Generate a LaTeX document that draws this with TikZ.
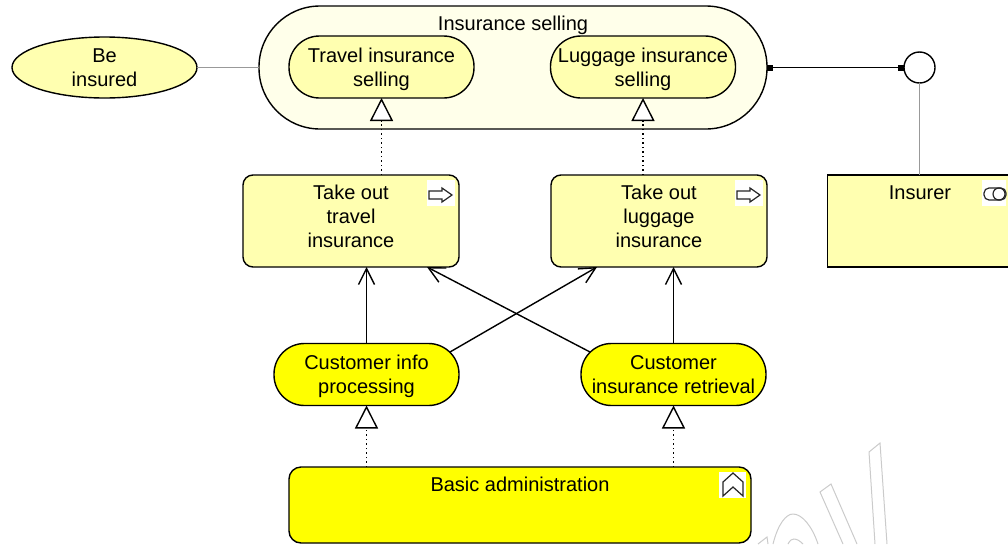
\documentclass[tikz,border=0pt]{standalone}
\usepackage{fontspec}
\setmainfont{Liberation Sans}
\usepackage{xcolor}
\usetikzlibrary{positioning, shapes.geometric}
\usetikzlibrary{arrows.meta}
\definecolor{paleyellow}{HTML}{FFFFB0}
\definecolor{faintyellow}{HTML}{FFFFEA}
\definecolor{strongyellow}{HTML}{FFFF00}
\definecolor{linegray}{HTML}{999999}
\definecolor{markgray}{HTML}{CBCBCB}

\begin{document}
\begin{tikzpicture}[x=1pt,y=-1pt]
        \tikzset{txt/.style = {font=\fontsize{20}{24}\selectfont, align=center, inner sep=0pt, execute at begin node=\strut, text depth=-1pt}}
        \tikzset{shape base/.style = {txt, draw, line width=1.4pt, inner sep=0pt, outer sep=0pt}}
        \tikzset{pill/.style = {shape base, rounded corners=30.5pt, minimum width=185pt, minimum height=62pt}}
        \tikzset{box/.style = {shape base, rounded corners=10pt, fill=paleyellow, minimum width=216pt, minimum height=92pt}}
        \tikzset{edge/.style = {line width=1.4pt, -{Straight Barb[length=16pt,width=16pt,line width=1.4pt]}}}
        \tikzset{realize/.style = {line width=1.2pt, dash pattern=on 1.5pt off 3pt, -{Triangle[open,fill=white,length=23pt,width=23pt,line width=1.4pt]}}}
        \tikzset{plain/.style = {line width=1.5pt, linegray}}
        \tikzset{assign/.style = {line width=1.8pt, {Square[length=6pt,width=6pt]}-{Square[length=6pt,width=6pt]}}}
        \tikzset{icon/.style = {line width=1.2pt, black!85}}
        \tikzset{iconbg/.style = {fill=white, draw=none}}
        \tikzset{watermark/.style = {line width=1pt, markgray}}

        \useasboundingbox (0,0) rectangle (1008,544);

        % watermark
        \draw[watermark] (758,544) -- (767,537) -- (768,544);
        \draw[watermark] (773,544) .. controls (778,524) and (786,514) .. (793,514) .. controls (802,514) and (812,526) .. (818,544);
        \draw[watermark] (788,544) .. controls (790,540) and (792,539) .. (794,539) .. controls (797,539) and (800,541) .. (803,544);
        \draw[watermark] (843,544) -- (820,492) -- (831,484) -- (857,544);
        \draw[watermark] (875,544) -- (869,452) -- (880,443) -- (887,544);

        % service layer
        \node[ellipse, shape base, fill=paleyellow, minimum width=185pt, minimum height=61pt] (beinsured) at (104.5,67.5) {Be\\insured};
        \node[shape base, rounded corners=61pt, fill=faintyellow, minimum width=508pt, minimum height=123pt] (selling) at (513,67.5) {};
        \node[txt] (sellingt) at (513,22) {Insurance selling};
        \node[pill, fill=paleyellow] (travel) at (381.5,67) {Travel insurance\\selling};
        \node[pill, fill=paleyellow] (luggage) at (643,67) {Luggage insurance\\selling};
        \node[circle, shape base, fill=white, minimum size=31pt] (iface) at (919.5,67.5) {};

        % processes
        \node[box] (taketravel) at (351,221) {};
        \node[txt] (taketravelt) at (351,216) {Take out\\travel\\insurance};
        \node[box] (takeluggage) at (659,221) {};
        \node[txt] (takeluggaget) at (659,216) {Take out\\luggage\\insurance};
        \node[shape base, fill=paleyellow, minimum width=182pt, minimum height=92pt] (insurer) at (918.5,221) {};
        \node[txt] (insurert) at (920,191) {Insurer};

        % application layer
        \node[pill, fill=strongyellow] (custinfo) at (366.5,374.5) {Customer info\\processing};
        \node[pill, fill=strongyellow] (custretr) at (673.5,374.5) {Customer\\insurance retrieval};
        \node[shape base, rounded corners=12pt, fill=strongyellow, minimum width=462pt, minimum height=76pt] (basic) at (520,505) {};
        \node[txt] (basict) at (520,483) {Basic administration};

        % icons
        \foreach \ix/\iy in {441/193, 749/193} {
            \fill[iconbg] (\ix-14,\iy-13) rectangle (\ix+14,\iy+13);
            \draw[icon] (\ix-12,\iy-2) -- (\ix+1,\iy-2) -- (\ix+1,\iy-5) -- (\ix+11,\iy+2) -- (\ix+1,\iy+9) -- (\ix+1,\iy+6) -- (\ix-12,\iy+6) -- cycle;
        }
        \fill[iconbg] (982,180) rectangle (1006,206);
        \draw[icon, rounded corners=5pt] (984,188) rectangle (1006,200);
        \draw[icon] (999,194) circle (6);
        \fill[iconbg] (719,472) rectangle (746,498);
        \draw[icon] (733,473) -- (743,482) -- (743,496) -- (733,487) -- (723,496) -- (723,482) -- cycle;

        % connections
        \coordinate (infoout) at (450,352);
        \coordinate (retrout) at (590,352);
        \coordinate (luggagein) at (597,267);
        \coordinate (travelin) at (427,267);
        \draw[plain] (beinsured) -- (selling);
        \draw[plain] (iface) -- (iface |- insurer.north);
        \draw[assign] (selling.east) -- (iface.west);
        \draw[realize] (travel.south |- taketravel.north) -- (travel.south);
        \draw[realize] (luggage.south |- takeluggage.north) -- (luggage.south);
        \draw[realize] (custinfo.south |- basic.north) -- (custinfo.south);
        \draw[realize] (custretr.south |- basic.north) -- (custretr.south);
        \draw[edge] (custinfo.north) -- (custinfo.north |- taketravel.south);
        \draw[edge] (custretr.north) -- (custretr.north |- takeluggage.south);
        \draw[edge] (infoout) -- (luggagein);
        \draw[edge] (retrout) -- (travelin);

\end{tikzpicture}
\end{document}
